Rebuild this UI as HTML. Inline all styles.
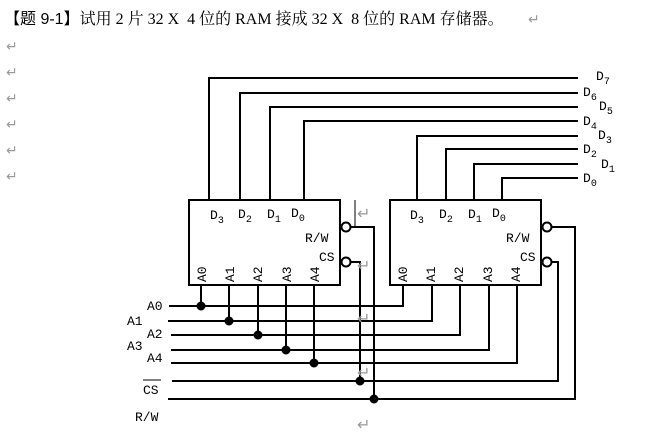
<!DOCTYPE html>
<html><head><meta charset="utf-8"><style>
html,body{margin:0;padding:0;background:#fff;width:648px;height:437px;overflow:hidden}
svg{display:block}
.t{font-family:"Liberation Serif","Noto Serif CJK SC",serif;font-size:16px;fill:#000}
.m{font-family:"Liberation Mono","DejaVu Sans Mono",monospace;font-size:13px;fill:#000}
.s{font-size:10px}
.r{font-family:"DejaVu Sans",sans-serif;font-size:14px;fill:#999}
</style></head><body>
<svg width="648" height="437" xmlns="http://www.w3.org/2000/svg">
<text x="4" y="24" class="t"><tspan style="font-family:'Liberation Sans','Noto Sans CJK SC',sans-serif">【题 9-1】</tspan>试用 2 片 32 X&#160; 4 位的 RAM 接成 32 X&#160; 8 位的 RAM 存储器。</text>
<text x="528" y="24" class="r">↵</text>
<g class="r"><text x="6" y="51">↵</text><text x="6" y="77">↵</text><text x="6" y="103">↵</text><text x="6" y="129">↵</text><text x="6" y="155">↵</text><text x="6" y="181">↵</text></g>
<g stroke="#000" stroke-width="2" fill="none">
<rect x="189" y="200" width="151" height="85"/>
<rect x="390" y="200" width="151" height="85"/>
<polyline points="209,200 209,78 578,78"/>
<polyline points="240,200 240,93 578,93"/>
<polyline points="270,200 270,107 578,107"/>
<polyline points="304,200 304,121 578,121"/>
<polyline points="417,200 417,136 578,136"/>
<polyline points="446,200 446,149 578,149"/>
<polyline points="474,200 474,164 578,164"/>
<polyline points="502,200 502,178 578,178"/>
<polyline points="169,306 403,306 403,285"/>
<polyline points="168,321 432,321 432,285"/>
<polyline points="171,335 460,335 460,285"/>
<polyline points="171,350 489,350 489,285"/>
<polyline points="171,363 517,363 517,285"/>
<line x1="201" y1="285" x2="201" y2="306"/>
<line x1="229" y1="285" x2="229" y2="321"/>
<line x1="258" y1="285" x2="258" y2="335"/>
<line x1="286" y1="285" x2="286" y2="350"/>
<line x1="314" y1="285" x2="314" y2="363"/>
<polyline points="172,381 558,381 558,262 552,262"/>
<polyline points="168,399 575,399 575,227 552,227"/>
<polyline points="351,262 360,262 360,381"/>
<polyline points="351,227 374,227 374,399"/>
<circle cx="346" cy="227" r="4.5" fill="#fff"/>
<circle cx="346" cy="262" r="4.5" fill="#fff"/>
<circle cx="547" cy="227" r="4.5" fill="#fff"/>
<circle cx="547" cy="262" r="4.5" fill="#fff"/>
</g>
<line x1="355" y1="200" x2="355" y2="228" stroke="#000" stroke-width="1"/>
<g fill="#000">
<circle cx="201" cy="306" r="4.5"/><circle cx="229" cy="321" r="4.5"/><circle cx="258" cy="335" r="4.5"/>
<circle cx="286" cy="350" r="4.5"/><circle cx="314" cy="363" r="4.5"/><circle cx="360" cy="381" r="4.5"/><circle cx="374" cy="399" r="4.5"/>
</g>
<g class="r" style="font-size:16px"><text x="357" y="219">↵</text><text x="357" y="271">↵</text><text x="357" y="324">↵</text><text x="357" y="378">↵</text><text x="357" y="430">↵</text></g>
<g class="m">
<text x="596" y="80">D<tspan class="s" dy="4">7</tspan></text>
<text x="583" y="96">D<tspan class="s" dy="4">6</tspan></text>
<text x="599" y="110">D<tspan class="s" dy="4">5</tspan></text>
<text x="583" y="125">D<tspan class="s" dy="4">4</tspan></text>
<text x="598" y="139">D<tspan class="s" dy="4">3</tspan></text>
<text x="583" y="153">D<tspan class="s" dy="4">2</tspan></text>
<text x="601" y="168">D<tspan class="s" dy="4">1</tspan></text>
<text x="583" y="182">D<tspan class="s" dy="4">0</tspan></text>
<text x="210" y="219">D<tspan class="s" dy="4">3</tspan></text>
<text x="238" y="218">D<tspan class="s" dy="4">2</tspan></text>
<text x="267" y="218">D<tspan class="s" dy="4">1</tspan></text>
<text x="291" y="217">D<tspan class="s" dy="4">0</tspan></text>
<text x="305" y="242">R/W</text>
<text x="319" y="261">CS</text>
<text x="410" y="219">D<tspan class="s" dy="4">3</tspan></text>
<text x="439" y="218">D<tspan class="s" dy="4">2</tspan></text>
<text x="468" y="218">D<tspan class="s" dy="4">1</tspan></text>
<text x="492" y="217">D<tspan class="s" dy="4">0</tspan></text>
<text x="506" y="242">R/W</text>
<text x="520" y="261">CS</text>
<text x="147" y="310">A0</text>
<text x="127" y="325">A1</text>
<text x="147" y="338">A2</text>
<text x="127" y="350">A3</text>
<text x="147" y="362">A4</text>
<text x="143" y="394">CS</text>
<text x="135" y="421">R/W</text>
</g>
<line x1="143" y1="380" x2="161" y2="380" stroke="#000" stroke-width="1"/>
<g class="m">
<text transform="translate(206,282) rotate(-90)">A0</text>
<text transform="translate(234,282) rotate(-90)">A1</text>
<text transform="translate(262,282) rotate(-90)">A2</text>
<text transform="translate(291,282) rotate(-90)">A3</text>
<text transform="translate(319,282) rotate(-90)">A4</text>
<text transform="translate(407,282) rotate(-90)">A0</text>
<text transform="translate(435,282) rotate(-90)">A1</text>
<text transform="translate(463,282) rotate(-90)">A2</text>
<text transform="translate(492,282) rotate(-90)">A3</text>
<text transform="translate(520,282) rotate(-90)">A4</text>
</g>
</svg>
</body></html>
